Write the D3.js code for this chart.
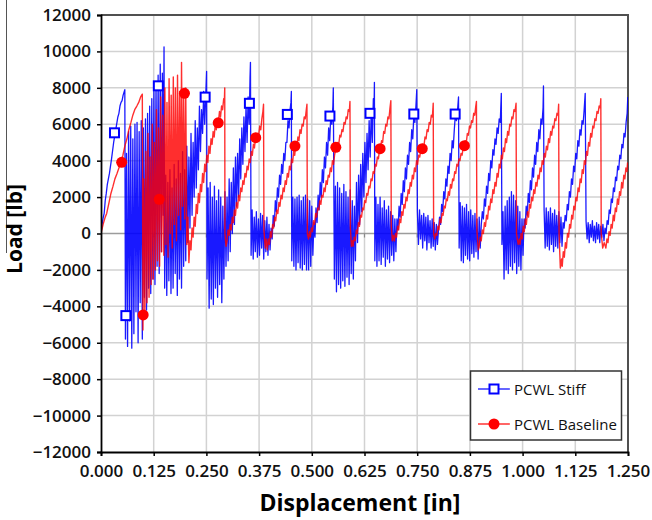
<!DOCTYPE html>
<html>
<head>
<meta charset="utf-8">
<script src="https://cdn.jsdelivr.net/npm/d3@7"></script>
<style>
  body { margin: 0; background: #fff; }
  svg { display: block; }
</style>
</head>
<body>
<svg id="chart" width="652" height="520"></svg>
<script>
// Axis ticks
const xTicks = [0, 0.125, 0.25, 0.375, 0.5, 0.625, 0.75, 0.875, 1.0, 1.125, 1.25];
const yTicks = [-12000, -10000, -8000, -6000, -4000, -2000, 0, 2000, 4000, 6000, 8000, 10000, 12000];
const seriesNames = ["PCWL Stiff", "PCWL Baseline"];

// PCWL Stiff: [displacement (in), load (lb)]
const stiffCurve = [
  [0,0],[0.0025,500],[0.005,850],[0.0075,1100],[0.01,1800],[0.0125,2200],[0.015,2700],[0.02,3300],[0.025,4100],[0.03,5000],[0.035,5700],[0.04,6400],[0.0425,6600],[0.045,7000],[0.0475,7200],[0.05,7300],[0.0525,7600],[0.0565,7900],
  [0.058,-5800],[0.0605,4400],[0.063,-6200],[0.0655,5600],[0.068,-4800],[0.0705,5900],[0.073,-6300],[0.0755,5200],[0.078,-5500],[0.0805,6000],[0.083,-4300],[0.0855,6100],[0.088,-6000],[0.0905,5600],[0.093,-3800],[0.0955,6200],[0.098,-5800],[0.1005,5800],[0.103,-3500],[0.1055,6300],[0.108,-4200],[0.1105,6600],[0.113,-3000],[0.1155,7000],[0.118,-3300],[0.1205,7400],[0.123,-2500],[0.1255,7800],[0.128,-2800],[0.1305,8300],[0.133,-1800],[0.1355,8700],[0.138,-2200],[0.1405,9300],[0.143,-1000],[0.1455,8800],[0.1475,1000],[0.1495,10250],
  [0.151,-3000],[0.1535,3200],[0.156,-3400],[0.1585,2800],[0.161,-2600],[0.1635,3500],[0.166,-3300],[0.1685,2500],[0.171,-3000],[0.1735,3800],[0.176,-2200],[0.1785,3000],[0.181,-3400],[0.1835,4000],[0.186,-2500],[0.1885,3300],[0.191,-3000],[0.1935,4500],[0.196,-1800],
  [0.1985,3500],[0.201,-1500],[0.2035,4800],[0.206,-500],[0.2085,4200],[0.211,300],[0.2135,5500],[0.216,1000],[0.2185,5000],[0.221,2000],[0.2235,6200],[0.226,2500],[0.2285,5800],[0.231,3500],[0.2335,7000],[0.236,4500],[0.2385,6800],[0.241,5500],[0.2435,7800],[0.246,6000],[0.2485,7600],[0.2505,8900],
  [0.2515,-2500],[0.254,2500],[0.2565,-4100],[0.259,2800],[0.2615,-3600],[0.264,2000],[0.2665,-3900],[0.269,2600],[0.2715,-3000],[0.274,1800],[0.2765,-3500],[0.279,2400],[0.2815,-2800],[0.284,2000],[0.2865,-3800],[0.289,1500],[0.2915,-2500],
  [0.294,2300],[0.2965,-1800],[0.299,2000],[0.3015,-1500],[0.304,3000],[0.3065,-1000],[0.309,2800],[0.3115,0],[0.314,3600],[0.3165,500],[0.319,4200],[0.3215,1500],[0.324,4400],[0.3265,2000],[0.329,5200],[0.3315,3000],[0.334,5800],[0.3365,3800],[0.339,6400],[0.3415,4500],[0.344,7000],[0.3465,5000],[0.349,7500],[0.3515,6000],[0.3535,8600],[0.3545,9400],
  [0.356,-1200],[0.3585,1300],[0.361,-1400],[0.3635,900],[0.366,-1000],[0.3685,1200],[0.371,-1300],[0.3735,800],[0.376,-1200],[0.3785,1100],[0.381,-800],[0.3835,1000],[0.386,-1400],[0.3885,700],[0.391,-1000],[0.3935,900],[0.396,-1200],[0.3985,500],
  [0.401,-900],[0.4035,300],[0.406,-300],[0.4085,1000],[0.411,400],[0.4135,1800],[0.416,1200],[0.4185,2500],[0.421,2000],[0.4235,3200],[0.426,2700],[0.4285,3800],[0.431,3300],[0.4335,4400],[0.436,4000],[0.4385,5000],[0.441,5000],[0.4435,6200],[0.446,5800],[0.4485,6800],[0.4505,7200],[0.4515,7800],
  [0.4525,-1500],[0.455,2000],[0.4575,-1800],[0.46,1900],[0.4625,-2000],[0.465,2000],[0.4675,-1600],[0.47,2100],[0.4725,-1900],[0.475,1800],[0.4775,-2000],[0.48,2000],[0.4825,-1700],[0.485,2100],[0.4875,-2000],[0.49,1900],[0.4925,-2000],[0.495,1800],[0.4975,-1800],[0.5,1500],[0.5025,-1200],
  [0.505,600],[0.5075,-200],[0.51,1400],[0.5125,600],[0.515,2100],[0.5175,1300],[0.52,2800],[0.5225,2000],[0.525,3500],[0.5275,2800],[0.53,4200],[0.5325,3600],[0.535,5000],[0.5375,4300],[0.54,5800],[0.5425,5100],[0.545,6500],[0.5475,6000],[0.55,7000],[0.551,8000],
  [0.5535,-2500],[0.556,2600],[0.5585,-3200],[0.561,2800],[0.5635,-2800],[0.566,2500],[0.5685,-3000],[0.571,2200],[0.5735,-2600],[0.576,2700],[0.5785,-2900],[0.581,2300],[0.5835,-2400],[0.586,2000],[0.5885,-2800],[0.591,2400],[0.5935,-2200],[0.596,1800],[0.5985,-2500],
  [0.601,1500],[0.6035,-1500],[0.606,2800],[0.6085,-500],[0.611,3200],[0.6135,500],[0.616,3800],[0.6185,1200],[0.621,4400],[0.6235,2000],[0.626,5000],[0.6285,2800],[0.631,5500],[0.6335,3500],[0.636,6200],[0.6385,4200],[0.641,6800],[0.6435,5000],[0.646,7400],[0.6475,6500],[0.6485,8300],
  [0.6495,-1500],[0.652,2000],[0.6545,-1800],[0.657,1600],[0.6595,-1500],[0.662,2000],[0.6645,-1700],[0.667,1400],[0.6695,-1300],[0.672,1800],[0.6745,-1800],[0.677,1300],[0.6795,-1400],[0.682,1500],[0.6845,-1600],[0.687,1200],[0.6895,-1200],[0.692,1000],[0.6945,-1500],[0.697,800],[0.6995,-1000],
  [0.702,800],[0.7045,200],[0.707,1500],[0.7095,900],[0.712,2200],[0.7145,1600],[0.717,2900],[0.7195,2300],[0.722,3600],[0.7245,3000],[0.727,4300],[0.7295,3800],[0.732,5000],[0.7345,4500],[0.737,5700],[0.7395,5200],[0.742,6500],[0.7445,6100],[0.747,7000],[0.749,7900],
  [0.7505,1200],[0.753,-600],[0.7555,1300],[0.758,-300],[0.7605,1000],[0.763,-800],[0.7655,1100],[0.768,-400],[0.7705,900],[0.773,-900],[0.7755,1000],[0.778,-500],[0.7805,700],[0.783,-800],[0.7855,800],[0.788,-700],[0.7905,600],[0.793,-900],[0.7955,500],[0.798,-600],
  [0.8005,200],[0.803,900],[0.8055,500],[0.808,1600],[0.8105,1200],[0.813,2300],[0.8155,1900],[0.818,3000],[0.8205,2600],[0.823,3700],[0.8255,3300],[0.828,4400],[0.8305,4000],[0.833,5100],[0.8355,4700],[0.838,5700],[0.8405,6500],[0.843,6200],[0.8455,6700],[0.848,7500],
  [0.8495,-800],[0.852,1700],[0.8545,-1500],[0.857,1500],[0.8595,-1600],[0.862,1400],[0.8645,-1200],[0.867,1600],[0.8695,-1400],[0.872,1200],[0.8745,-1500],[0.877,1300],[0.8795,-1100],[0.882,1000],[0.8845,-1300],[0.887,1100],[0.8895,-1000],[0.892,800],[0.8945,-1400],[0.897,900],[0.8995,-800],
  [0.902,500],[0.9045,1200],[0.907,800],[0.9095,1900],[0.912,1500],[0.9145,2600],[0.917,2200],[0.9195,3300],[0.922,2900],[0.9245,4000],[0.927,3600],[0.9295,4600],[0.932,4300],[0.9345,5200],[0.937,4900],[0.9395,5800],[0.942,5500],[0.9445,6300],[0.947,6100],[0.9495,7700],
  [0.951,-600],[0.9535,1200],[0.956,-2500],[0.9585,1500],[0.961,-2000],[0.9635,1800],[0.966,-2200],[0.9685,2000],[0.971,-1800],[0.9735,2300],[0.976,-2000],[0.9785,2100],[0.981,-1600],[0.9835,1800],[0.986,-2200],[0.9885,1500],[0.991,-1800],[0.9935,1200],[0.996,-2000],[0.9985,800],[1.001,-1200],
  [1.0035,800],[1.006,300],[1.0085,1500],[1.011,1000],[1.0135,2200],[1.016,1700],[1.0185,2900],[1.021,2400],[1.0235,3600],[1.026,3100],[1.0285,4300],[1.031,3800],[1.0335,5000],[1.036,4500],[1.0385,5700],[1.041,5200],[1.0435,6300],[1.046,6000],[1.0485,6900],[1.0495,8100],
  [1.051,1300],[1.0535,-800],[1.056,1400],[1.0585,-700],[1.061,1200],[1.0635,-900],[1.066,1400],[1.0685,-600],[1.071,1100],[1.0735,-1000],[1.076,1300],[1.0785,-700],[1.081,1000],[1.0835,-800],[1.086,1200],[1.0885,-500],[1.091,900],[1.0935,-700],[1.096,600],
  [1.0985,300],[1.101,1000],[1.1035,700],[1.106,1600],[1.1085,1300],[1.111,2300],[1.1135,2000],[1.116,3000],[1.1185,2700],[1.121,3700],[1.1235,3400],[1.126,4400],[1.1285,4100],[1.131,5100],[1.1335,4800],[1.136,5700],[1.1385,5400],[1.141,6200],[1.1435,6000],[1.146,6800],[1.1485,7700],
  [1.1505,700],[1.153,-300],[1.1555,600],[1.158,-500],[1.1605,500],[1.163,-200],[1.1655,700],[1.168,-400],[1.1705,400],[1.173,-500],[1.1755,600],[1.178,-300],[1.1805,500],[1.183,-500],[1.1855,400],[1.188,-200],[1.1905,500],[1.193,-400],[1.1955,300],[1.198,0],
  [1.2005,700],[1.203,500],[1.2055,1300],[1.208,1100],[1.2105,1900],[1.213,1700],[1.2155,2500],[1.218,2300],[1.2205,3100],[1.223,2900],[1.2255,3700],[1.228,3500],[1.2305,4300],[1.233,4100],[1.2355,4900],[1.238,4700],[1.2405,5500],[1.243,5300],[1.2455,6100],[1.248,6600],[1.2495,7500]
];

// PCWL Baseline: [displacement (in), load (lb)]
const baseCurve = [
  [0,0],[0.005,500],[0.01,900],[0.0135,1100],[0.019,1700],[0.0235,2200],[0.0285,2600],[0.033,3000],[0.038,3300],[0.0425,3600],[0.047,3900],[0.052,4300],[0.0565,4800],[0.0615,5200],[0.066,5700],[0.071,6100],[0.0755,6500],[0.08,6800],[0.085,7000],[0.0895,7200],[0.094,7500],[0.098,7650],
  [0.0995,-5300],[0.1015,3000],[0.104,-4400],[0.1065,4500],[0.109,-3800],[0.1115,5500],[0.114,-3500],[0.1165,4200],[0.119,-2800],[0.1215,6000],[0.124,-2500],[0.1265,5000],[0.129,-2000],[0.1315,6800],[0.134,-1500],[0.1365,5800],[0.139,-1800],[0.1415,7500],[0.144,-1000],[0.1465,6500],[0.149,-1200],[0.1515,8000],[0.154,-600],[0.1565,7200],[0.159,-1300],[0.1615,8500],[0.164,0],[0.1665,7600],[0.169,-800],[0.1715,8600],[0.174,500],[0.1765,8000],[0.179,-400],[0.1815,8700],[0.184,1000],[0.1865,7800],[0.189,200],[0.191,9400],[0.1935,1500],[0.196,7600],[0.1985,800],[0.201,8000],[0.2035,-600],[0.206,900],[0.2085,-1600],
  [0.211,-400],[0.2135,-900],[0.216,300],[0.2185,-200],[0.221,900],[0.2235,400],[0.226,1600],[0.2285,1100],[0.231,2200],[0.2335,1700],[0.236,2700],[0.2385,2300],[0.241,3300],[0.2435,2800],[0.246,3800],[0.2485,3400],[0.251,4300],[0.2535,3900],[0.256,4800],[0.2585,4400],[0.261,5200],[0.2635,4900],[0.266,5600],[0.2685,5300],[0.271,6000],[0.2735,5700],[0.276,6300],[0.2785,6100],[0.281,6700],[0.2835,6400],[0.286,7000],[0.2885,6800],[0.291,7400],[0.2925,7200],[0.2935,8000],
  [0.294,0],[0.2965,-700],
  [0.299,-400],[0.3015,200],[0.304,-100],[0.3065,500],[0.309,200],[0.3115,900],[0.314,600],[0.3165,1300],[0.319,1000],[0.3215,1700],[0.324,1400],[0.3265,2100],[0.329,1800],[0.3315,2500],[0.334,2300],[0.3365,2900],[0.339,2700],[0.3415,3300],[0.344,3100],[0.3465,3700],[0.349,3500],[0.3515,4100],[0.354,3900],[0.3565,4500],[0.359,4300],[0.3615,4900],[0.364,4700],[0.3665,5300],[0.369,5100],[0.3715,5500],[0.374,5400],[0.3765,5900],[0.379,5700],[0.3815,6300],[0.384,6700],[0.3855,7100],
  [0.3865,200],[0.3895,-800],[0.392,-300],[0.3945,-900],
  [0.397,-300],[0.3995,-600],[0.402,100],[0.4045,-200],[0.407,500],[0.4095,300],[0.412,900],[0.4145,700],[0.417,1300],[0.4195,1100],[0.422,1700],[0.4245,1500],[0.427,2100],[0.4295,1900],[0.432,2500],[0.4345,2300],[0.437,2900],[0.4395,2700],[0.442,3300],[0.4445,3100],[0.447,3700],[0.4495,3500],[0.452,4100],[0.4545,3900],[0.457,4500],[0.4595,4300],[0.462,4900],[0.4645,4700],[0.467,5300],[0.4695,5100],[0.472,5700],[0.4745,5500],[0.477,6000],[0.4795,5900],[0.482,6400],[0.4845,6300],[0.487,6800],[0.4885,7100],
  [0.4895,0],[0.492,-300],[0.4945,100],[0.4965,-200],
  [0.499,300],[0.5015,100],[0.504,700],[0.5065,500],[0.509,1100],[0.5115,900],[0.514,1400],[0.5165,1300],[0.519,1800],[0.5215,1600],[0.524,2100],[0.5265,2000],[0.529,2500],[0.5315,2300],[0.534,2900],[0.5365,2700],[0.539,3200],[0.5415,3100],[0.544,3600],[0.5465,3400],[0.549,4000],[0.5515,3800],[0.554,4300],[0.5565,4600],[0.559,4700],[0.5615,5000],[0.564,4900],[0.5665,5400],[0.569,5300],[0.5715,5700],[0.574,5600],[0.5765,6100],[0.579,6000],[0.5815,6400],[0.584,6300],[0.5865,6800],[0.589,6700],[0.5905,7250],
  [0.5915,300],[0.594,-700],[0.5965,-400],[0.598,-700],
  [0.6005,-200],[0.603,-400],[0.6055,200],[0.608,0],[0.6105,600],[0.613,400],[0.6155,1000],[0.618,900],[0.6205,1400],[0.623,1300],[0.6255,1800],[0.628,1700],[0.6305,2200],[0.633,2100],[0.6355,2600],[0.638,2500],[0.6405,3000],[0.643,2900],[0.6455,3400],[0.648,3300],[0.6505,3800],[0.653,3700],[0.6555,4200],[0.658,4100],[0.6605,4600],[0.663,4700],[0.6655,5100],[0.668,5000],[0.6705,5600],[0.673,5500],[0.6755,6000],[0.678,5900],[0.6805,6400],[0.683,6300],[0.6855,6900],[0.6875,7300],
  [0.6885,400],[0.691,-400],[0.6935,-100],[0.696,-400],
  [0.6985,0],[0.701,-200],[0.7035,400],[0.706,200],[0.7085,800],[0.711,600],[0.7135,1200],[0.716,1000],[0.7185,1600],[0.721,1400],[0.7235,2000],[0.726,1800],[0.7285,2400],[0.731,2200],[0.7335,2800],[0.736,2600],[0.7385,3200],[0.741,3000],[0.7435,3600],[0.746,3400],[0.7485,4000],[0.751,3800],[0.7535,4300],[0.756,4200],[0.7585,4600],[0.761,4500],[0.7635,4900],[0.766,4800],[0.7685,5300],[0.771,5200],[0.7735,5700],[0.776,5600],[0.7785,6100],[0.781,6000],[0.7835,6500],[0.786,6400],[0.788,7150],
  [0.789,0],[0.7915,-300],[0.794,0],[0.7965,-100],
  [0.799,400],[0.8015,200],[0.804,800],[0.8065,600],[0.809,1100],[0.8115,1000],[0.814,1500],[0.8165,1400],[0.819,1900],[0.8215,1800],[0.824,2300],[0.8265,2100],[0.829,2700],[0.8315,2500],[0.834,3000],[0.8365,2900],[0.839,3400],[0.8415,3300],[0.844,3800],[0.8465,3700],[0.849,4100],[0.8515,4000],[0.854,4400],[0.8565,4300],[0.859,4700],[0.8615,4800],[0.864,5100],[0.8665,5000],[0.869,5500],[0.8715,5400],[0.874,5900],[0.8765,5800],[0.879,6200],[0.8815,6100],[0.884,6600],[0.8865,6500],[0.889,7000],[0.8905,7250],
  [0.8915,200],[0.895,-900],[0.897,-700],
  [0.8995,-200],[0.902,-400],[0.9045,200],[0.907,0],[0.9095,600],[0.912,400],[0.9145,1000],[0.917,800],[0.9195,1500],[0.922,1300],[0.9245,1900],[0.927,1700],[0.9295,2400],[0.932,2200],[0.9345,2800],[0.937,2600],[0.9395,3300],[0.942,3100],[0.9445,3800],[0.947,3600],[0.9495,4300],[0.952,4100],[0.9545,4700],[0.957,4500],[0.9595,5200],[0.962,5000],[0.9645,5600],[0.967,5400],[0.9695,6000],[0.972,5900],[0.9745,6400],[0.977,6300],[0.9795,6800],[0.982,6700],[0.9845,7150],
  [0.9855,0],[0.9895,-600],[0.9925,-300],[0.994,-600],
  [0.9965,0],[0.999,-300],[1.0015,400],[1.004,100],[1.0065,800],[1.009,500],[1.0115,1200],[1.014,900],[1.0165,1600],[1.019,1400],[1.0215,2000],[1.024,1800],[1.0265,2400],[1.029,2200],[1.0315,2800],[1.034,2600],[1.0365,3200],[1.039,3000],[1.0415,3600],[1.044,3400],[1.0465,4000],[1.049,3800],[1.0515,4400],[1.054,4200],[1.0565,4800],[1.059,4600],[1.0615,5200],[1.064,5000],[1.0665,5600],[1.069,5400],[1.0715,5900],[1.074,5800],[1.0765,6300],[1.079,6200],[1.0815,6600],[1.084,6500],[1.0855,7100],
  [1.0865,0],[1.0895,-1900],[1.0925,-1400],[1.094,-1800],
  [1.0965,-1000],[1.099,-1300],[1.1015,-500],[1.104,-800],[1.1065,0],[1.109,-200],[1.1115,500],[1.114,300],[1.1165,1000],[1.119,800],[1.1215,1500],[1.124,1300],[1.1265,2000],[1.129,1800],[1.1315,2500],[1.134,2300],[1.1365,3000],[1.139,2800],[1.1415,3500],[1.144,3300],[1.1465,4000],[1.149,3800],[1.1515,4500],[1.154,4300],[1.1565,5000],[1.159,4800],[1.1615,5500],[1.164,5300],[1.1665,5900],[1.169,5800],[1.1715,6300],[1.174,6200],[1.1765,6700],[1.179,6600],[1.1815,7000],[1.184,6900],[1.1855,7400],
  [1.1865,0],[1.19,-800],[1.1935,-500],[1.1975,-800],
  [1.2,-300],[1.2025,-500],[1.205,100],[1.2075,-100],[1.21,500],[1.2125,300],[1.215,1000],[1.2175,700],[1.22,1400],[1.2225,1200],[1.225,1900],[1.2275,1600],[1.23,2300],[1.2325,2100],[1.235,2800],[1.2375,2500],[1.24,3200],[1.2425,3000],[1.245,3600],[1.2475,3400],[1.249,3900]
];

// Symbol positions along each curve
const stiffMarkers = [[0.032,5530],[0.059,-4510],[0.136,8110],[0.247,7490],[0.352,7150],[0.442,6540],[0.543,6450],[0.638,6600],[0.742,6560],[0.840,6560]];
const baseMarkers = [[0.049,3910],[0.100,-4470],[0.138,1880],[0.198,7700],[0.278,6080],[0.367,5260],[0.460,4800],[0.557,4730],[0.662,4660],[0.762,4660],[0.862,4820]];

const stiffColor = "#0000ff";
const baseColor = "#ff0000";

const svg = d3.select("#chart");
const plot = { left: 101, right: 628, top: 15, bottom: 452 };

const x = d3.scaleLinear().domain([0, 1.25]).range([plot.left, plot.right]);
const y = d3.scaleLinear().domain([-12000, 12000]).range([plot.bottom, plot.top]);

// thin border line at the far left of the figure
svg.append("line")
  .attr("x1", 6.5).attr("x2", 6.5).attr("y1", 0).attr("y2", 253)
  .attr("stroke", "#555").attr("stroke-width", 1);

// grid
const grid = svg.append("g");
grid.selectAll("line.v").data(xTicks.slice(1, -1)).join("line")
  .attr("x1", d => x(d)).attr("x2", d => x(d))
  .attr("y1", plot.top).attr("y2", plot.bottom)
  .attr("stroke", "#d2d2d2").attr("stroke-width", 1.5);
grid.selectAll("line.h").data(yTicks.slice(1, -1)).join("line")
  .attr("x1", plot.left).attr("x2", plot.right)
  .attr("y1", d => y(d)).attr("y2", d => y(d))
  .attr("stroke", d => d === 0 ? "#9c9c9c" : "#d2d2d2")
  .attr("stroke-width", 1.5);
// small ticks on the zero line
grid.selectAll("line.zt").data(xTicks.slice(1, -1)).join("line")
  .attr("x1", d => x(d)).attr("x2", d => x(d))
  .attr("y1", y(0)).attr("y2", y(0) + 4)
  .attr("stroke", "#8a8a8a").attr("stroke-width", 1.2);

// frame (top and right)
svg.append("path")
  .attr("d", `M${plot.left},${plot.top}H${plot.right}V${plot.bottom}`)
  .attr("fill", "none").attr("stroke", "#505050").attr("stroke-width", 2);

// curves
svg.append("defs").append("clipPath").attr("id", "clip")
  .append("rect").attr("x", plot.left).attr("y", plot.top)
  .attr("width", plot.right - plot.left).attr("height", plot.bottom - plot.top);

const line = d3.line().x(d => x(d[0])).y(d => y(d[1]));
const curves = svg.append("g").attr("clip-path", "url(#clip)");
curves.append("path").datum(stiffCurve)
  .attr("d", line).attr("fill", "none")
  .attr("stroke", stiffColor).attr("stroke-width", 1.3)
  .attr("stroke-opacity", 0.9)
  .attr("stroke-linejoin", "round");
curves.append("path").datum(baseCurve)
  .attr("d", line).attr("fill", "none")
  .attr("stroke", baseColor).attr("stroke-width", 1.4)
  .attr("stroke-opacity", 0.82)
  .attr("stroke-linejoin", "round");

// symbols
svg.append("g").selectAll("rect").data(stiffMarkers).join("rect")
  .attr("x", d => x(d[0]) - 4.5).attr("y", d => y(d[1]) - 4.5)
  .attr("width", 9).attr("height", 9)
  .attr("fill", "#fff").attr("stroke", stiffColor).attr("stroke-width", 2);
svg.append("g").selectAll("circle").data(baseMarkers).join("circle")
  .attr("cx", d => x(d[0])).attr("cy", d => y(d[1])).attr("r", 5.5)
  .attr("fill", baseColor);

// axes
const tickFont = g => g.selectAll("text")
  .attr("font-family", "'Open Sans', sans-serif")
  .attr("font-size", 17).attr("font-weight", 600).attr("fill", "#111");

const yAxis = svg.append("g").attr("transform", `translate(${plot.left},0)`)
  .call(d3.axisLeft(y).tickValues(yTicks).tickSize(4).tickPadding(6).tickFormat(d3.format("d")))
  .call(tickFont);
yAxis.select(".domain").attr("stroke", "#000").attr("stroke-width", 1.8);
yAxis.selectAll(".tick line").attr("stroke", "#000").attr("stroke-width", 1.5);

const xAxis = svg.append("g").attr("transform", `translate(0,${plot.bottom})`)
  .call(d3.axisBottom(x).tickValues(xTicks).tickSize(4).tickPadding(9).tickFormat(d3.format(".3f")))
  .call(tickFont);
xAxis.select(".domain").attr("stroke", "#000").attr("stroke-width", 1.8);
xAxis.selectAll(".tick line").attr("stroke", "#000").attr("stroke-width", 1.5);

// axis titles
svg.append("text")
  .attr("transform", "translate(22,229) rotate(-90)")
  .attr("text-anchor", "middle")
  .attr("font-family", "'Open Sans', sans-serif").attr("font-size", 21).attr("font-weight", 700)
  .attr("fill", "#000").text("Load [lb]");
svg.append("text")
  .attr("x", 360).attr("y", 511)
  .attr("text-anchor", "middle")
  .attr("font-family", "'Open Sans', sans-serif").attr("font-size", 23).attr("font-weight", 700)
  .attr("fill", "#000").text("Displacement [in]");

// legend
const legend = svg.append("g");
legend.append("rect")
  .attr("x", 470.5).attr("y", 371).attr("width", 151).attr("height", 69)
  .attr("fill", "#fff").attr("stroke", "#333").attr("stroke-width", 1.5);
const items = [
  { name: seriesNames[0], color: stiffColor, shape: "square", y: 389 },
  { name: seriesNames[1], color: baseColor, shape: "circle", y: 424 }
];
items.forEach(it => {
  legend.append("line").attr("x1", 478).attr("x2", 510).attr("y1", it.y).attr("y2", it.y)
    .attr("stroke", it.color).attr("stroke-width", 1.2);
  if (it.shape === "square") {
    legend.append("rect").attr("x", 494 - 4.5).attr("y", it.y - 4.5).attr("width", 9).attr("height", 9)
      .attr("fill", "#fff").attr("stroke", it.color).attr("stroke-width", 2);
  } else {
    legend.append("circle").attr("cx", 494).attr("cy", it.y).attr("r", 5.5).attr("fill", it.color);
  }
  legend.append("text").attr("x", 514).attr("y", it.y + 5.5)
    .attr("font-family", "'Open Sans', sans-serif").attr("font-size", 15)
    .attr("fill", "#111").text(it.name);
});
</script>
</body>
</html>
